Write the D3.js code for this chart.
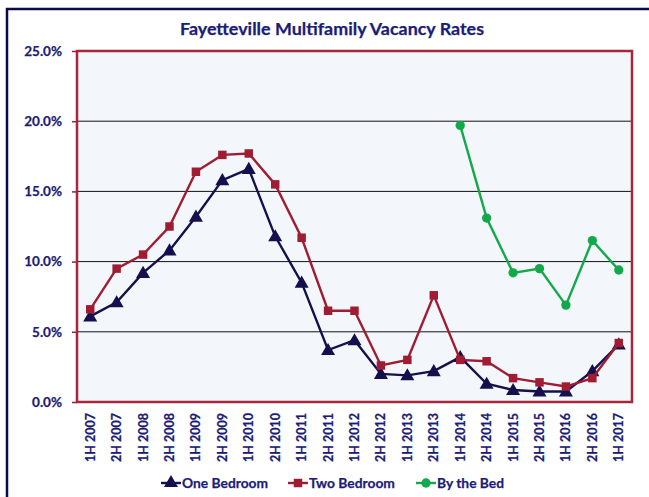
<!DOCTYPE html>
<html lang="en">
<head>
  <meta charset="UTF-8" />
  <title>Fayetteville Multifamily Vacancy Rates</title>
  <script src="https://d3js.org/d3.v7.min.js"></script>
  <style>
    body { margin: 0; background: white; }
    svg { display: block; }
    text { font-family: Lato, sans-serif; font-weight: bold; fill: #1c1c78; stroke: #1c1c78; stroke-width: 0.25px; }
  </style>
</head>
<body>
  <svg width="649" height="497"></svg>
  <script>
    // Chart data
    const periods = ["1H 2007", "2H 2007", "1H 2008", "2H 2008", "1H 2009", "2H 2009", "1H 2010",
      "2H 2010", "1H 2011", "2H 2011", "1H 2012", "2H 2012", "1H 2013", "2H 2013", "1H 2014",
      "2H 2014", "1H 2015", "2H 2015", "1H 2016", "2H 2016", "1H 2017"];
    const oneBedroom = [6.1, 7.1, 9.2, 10.8, 13.2, 15.8, 16.6, 11.8, 8.5, 3.7, 4.4, 2.0, 1.9, 2.2,
      3.2, 1.3, 0.85, 0.75, 0.75, 2.2, 4.1];
    const twoBedroom = [6.6, 9.5, 10.5, 12.5, 16.4, 17.6, 17.7, 15.5, 11.7, 6.5, 6.5, 2.6, 3.0, 7.6,
      3.0, 2.9, 1.7, 1.4, 1.1, 1.7, 4.2];
    const byTheBed = [null, null, null, null, null, null, null, null, null, null, null, null, null, null,
      19.7, 13.1, 9.2, 9.5, 6.9, 11.5, 9.4];
    const yTicks = [0, 5, 10, 15, 20, 25];

    const series = [
      { name: "One Bedroom", values: oneBedroom, color: "#14104e", marker: "triangle" },
      { name: "Two Bedroom", values: twoBedroom, color: "#a01c32", marker: "square" },
      { name: "By the Bed", values: byTheBed, color: "#13a84a", marker: "circle" }
    ];

    const svg = d3.select("svg");
    const plot = { left: 77, top: 51, right: 632, bottom: 402 };

    // outer chart frame (left + top edges visible)
    svg.append("path")
      .attr("d", "M7,497 V9 H649")
      .attr("fill", "none")
      .attr("stroke", "#0a0a48")
      .attr("stroke-width", 2.5);

    svg.append("text")
      .attr("x", 332).attr("y", 35)
      .attr("text-anchor", "middle")
      .attr("font-size", 17)
      .attr("textLength", 304)
      .attr("lengthAdjust", "spacingAndGlyphs")
      .text("Fayetteville Multifamily Vacancy Rates");

    const x = d3.scaleBand().domain(periods).range([plot.left, plot.right]);
    const y = d3.scaleLinear().domain([0, 25]).range([plot.bottom, plot.top]);

    svg.append("rect")
      .attr("x", plot.left).attr("y", plot.top)
      .attr("width", plot.right - plot.left).attr("height", plot.bottom - plot.top)
      .attr("fill", "#f3f7fc");

    // gridlines
    svg.append("g").selectAll("line")
      .data(yTicks.slice(1, -1))
      .join("line")
      .attr("x1", plot.left).attr("x2", plot.right)
      .attr("y1", d => y(d)).attr("y2", d => y(d))
      .attr("stroke", "#111").attr("stroke-width", 1);

    // y axis
    const yAxis = svg.append("g")
      .attr("transform", `translate(${plot.left},0)`)
      .call(d3.axisLeft(y).tickValues(yTicks).tickFormat(d => d.toFixed(1) + "%").tickSize(5).tickPadding(10));
    yAxis.select(".domain").remove();
    yAxis.selectAll("line").attr("stroke", "#a01c32").attr("stroke-width", 1.5);
    yAxis.selectAll("text").attr("font-size", 13.5).attr("fill", "#1c1c78")
      .attr("font-family", "Lato, sans-serif").attr("font-weight", "bold");

    // plot border
    svg.append("rect")
      .attr("x", plot.left).attr("y", plot.top)
      .attr("width", plot.right - plot.left).attr("height", plot.bottom - plot.top)
      .attr("fill", "none")
      .attr("stroke", "#a8253b").attr("stroke-width", 2.5);

    // x labels
    const cx = d => x(d) + x.bandwidth() / 2;
    svg.append("g").selectAll("text")
      .data(periods)
      .join("text")
      .attr("transform", d => `translate(${cx(d) + 4.5},413) rotate(-90)`)
      .attr("text-anchor", "end")
      .attr("font-size", 12.5)
      .text(d => d);

    const line = d3.line()
      .defined(d => d != null)
      .x((d, i) => cx(periods[i]))
      .y(d => y(d));

    const symbols = {
      triangle: d3.symbol().type(d3.symbolTriangle).size(85),
      square: d3.symbol().type(d3.symbolSquare).size(72),
      circle: d3.symbol().type(d3.symbolCircle).size(68)
    };

    series.forEach(s => {
      const g = svg.append("g");
      g.append("path")
        .datum(s.values)
        .attr("d", line)
        .attr("fill", "none")
        .attr("stroke", s.color)
        .attr("stroke-width", 2.4);
      g.selectAll("path.pt")
        .data(s.values.map((v, i) => ({ v, p: periods[i] })).filter(d => d.v != null))
        .join("path")
        .attr("class", "pt")
        .attr("d", symbols[s.marker])
        .attr("transform", d => `translate(${cx(d.p)},${y(d.v) + (s.marker === "triangle" ? 1 : 0)})`)
        .attr("fill", s.color);
    });

    // legend
    const legendX = [161, 288, 416];
    const legend = svg.append("g").selectAll("g")
      .data(series)
      .join("g")
      .attr("transform", (d, i) => `translate(${legendX[i]},483)`);
    legend.append("line")
      .attr("x1", 0).attr("x2", 20)
      .attr("stroke", d => d.color).attr("stroke-width", 2.4);
    legend.append("path")
      .attr("d", d => symbols[d.marker]())
      .attr("transform", "translate(10,0)")
      .attr("fill", d => d.color);
    legend.append("text")
      .attr("x", 21).attr("y", 5)
      .attr("font-size", 13.8)
      .text(d => d.name);
  </script>
</body>
</html>
